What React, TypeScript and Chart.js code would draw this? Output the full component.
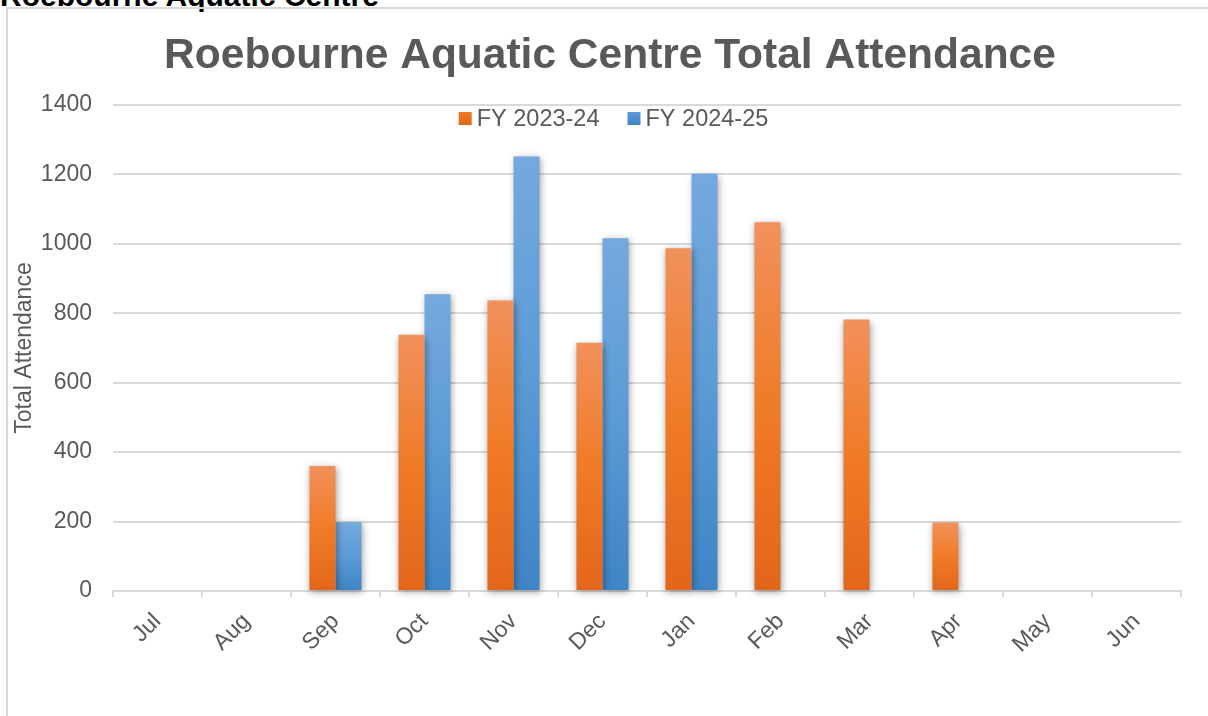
import React, { useEffect, useRef } from "react";
import { Chart, registerables } from "chart.js";

Chart.register(...registerables);

const pageHeading = "Roebourne Aquatic Centre";
const chartTitle = "Roebourne Aquatic Centre Total Attendance";
const yAxisTitle = "Total Attendance";
const months = ["Jul", "Aug", "Sep", "Oct", "Nov", "Dec", "Jan", "Feb", "Mar", "Apr", "May", "Jun"];
const seriesNames = ["FY 2023-24", "FY 2024-25"];
const fy2324: (number | null)[] = [null, null, 360, 738, 837, 715, 987, 1062, 782, 197, null, null];
const fy2425: (number | null)[] = [null, null, 198, 855, 1252, 1016, 1202, null, null, null, null, null];
const yMin = 0;
const yMax = 1400;
const yStep = 200;

const FONT = "'Liberation Sans', Arial, sans-serif";
const TEXT = "#595959";
const GRID = "#d9d9d9";
const orangeStops = ["#f1915c", "#f07b27", "#e2661a"];
const blueStops = ["#75a9de", "#5b9bd6", "#3f84c6"];

function barGradient(stops: string[]) {
  return (ctx: any) => {
    const chart = ctx.chart;
    const area = chart.chartArea;
    const v = ctx.raw;
    if (!area || ctx.type !== "data" || v == null) return stops[1];
    const ys = chart.scales.y;
    const top = ys.getPixelForValue(v);
    const bottom = ys.getPixelForValue(0);
    if (!isFinite(top) || !isFinite(bottom) || bottom - top < 1) return stops[1];
    const g = chart.ctx.createLinearGradient(0, top, 0, bottom);
    g.addColorStop(0, stops[0]);
    g.addColorStop(0.5, stops[1]);
    g.addColorStop(1, stops[2]);
    return g;
  };
}

const shadowPlugin = {
  id: "barShadow",
  beforeDatasetsDraw(chart: any) {
    const c = chart.ctx;
    c.save();
    c.shadowColor = "rgba(0,0,0,0.38)";
    c.shadowBlur = 7;
    c.shadowOffsetX = 1;
    c.shadowOffsetY = 2;
  },
  afterDatasetsDraw(chart: any) {
    chart.ctx.restore();
  },
};

const overlayPlugin = {
  id: "titleLegend",
  afterDraw(chart: any) {
    const c = chart.ctx;
    c.save();
    // title
    c.font = `bold 42.5px ${FONT}`;
    c.fillStyle = TEXT;
    c.textAlign = "center";
    c.textBaseline = "alphabetic";
    c.fillText(chartTitle, 610, 68);
    // legend
    c.font = `23.5px ${FONT}`;
    c.textAlign = "left";
    const sq = 13;
    const gap = 5;
    const itemGap = 28;
    const colors = [orangeStops, blueStops];
    const widths = seriesNames.map((n) => c.measureText(n).width);
    const total = widths.reduce((a, w) => a + sq + gap + w, 0) + itemGap * (seriesNames.length - 1);
    let x = 613.5 - total / 2;
    seriesNames.forEach((name, i) => {
      const g = c.createLinearGradient(0, 112, 0, 112 + sq);
      g.addColorStop(0, colors[i][1]);
      g.addColorStop(1, colors[i][2]);
      c.fillStyle = g;
      c.fillRect(x, 112, sq, sq);
      c.fillStyle = TEXT;
      c.fillText(name, x + sq + gap, 126);
      x += sq + gap + widths[i] + itemGap;
    });
    c.restore();
  },
};

export default function App() {
  const ref = useRef<HTMLCanvasElement | null>(null);

  useEffect(() => {
    if (!ref.current) return;
    Chart.defaults.font.family = FONT;
    const chart = new Chart(ref.current, {
      type: "bar",
      data: {
        labels: months,
        datasets: [
          {
            label: seriesNames[0],
            data: fy2324,
            backgroundColor: barGradient(orangeStops),
            borderWidth: 0,
            clip: false as any,
          },
          {
            label: seriesNames[1],
            data: fy2425,
            backgroundColor: barGradient(blueStops),
            borderWidth: 0,
            clip: false as any,
          },
        ],
      },
      options: {
        animation: false,
        responsive: true,
        maintainAspectRatio: false,
        datasets: { bar: { categoryPercentage: 0.585, barPercentage: 1 } },
        layout: { padding: { left: 5, top: 105, right: 27, bottom: 0 } },
        plugins: {
          legend: { display: false },
          title: { display: false },
          tooltip: { enabled: false },
        },
        scales: {
          x: {
            afterFit: (s: any) => {
              s.height = 125;
            },
            grid: {
              offset: true,
              drawOnChartArea: false,
              drawTicks: true,
              tickLength: 6,
              color: GRID,
              lineWidth: 2,
            },
            border: { display: true, color: GRID, width: 2 },
            ticks: {
              minRotation: 45,
              maxRotation: 45,
              autoSkip: false,
              padding: 11,
              color: TEXT,
              font: { size: 23, family: FONT },
            },
          },
          y: {
            min: yMin,
            max: yMax,
            afterFit: (s: any) => {
              s.width = 108;
            },
            ticks: {
              stepSize: yStep,
              padding: 21,
              color: TEXT,
              font: { size: 23, family: FONT },
              callback: (v: any) => String(v),
            },
            grid: { color: GRID, lineWidth: 2, drawTicks: false },
            border: { display: false },
            title: {
              display: true,
              text: yAxisTitle,
              color: TEXT,
              font: { size: 23, family: FONT },
              padding: { top: 6, bottom: 0 },
            },
          },
        },
      },
      plugins: [shadowPlugin, overlayPlugin],
    });
    return () => chart.destroy();
  }, []);

  return (
    <div style={{ position: "fixed", left: 0, top: 0, width: 1208, height: 716, overflow: "hidden", background: "#fff" }}>
      <div
        style={{
          position: "absolute",
          left: 0,
          top: -19,
          fontFamily: FONT,
          fontWeight: "bold",
          fontSize: 30,
          lineHeight: "30px",
          color: "#000",
          whiteSpace: "nowrap",
        }}
      >
        {pageHeading}
      </div>
      <div
        style={{
          position: "absolute",
          left: 6,
          top: 7,
          width: 1220,
          height: 730,
          border: `2px solid ${GRID}`,
          boxSizing: "border-box",
        }}
      />
      <div style={{ position: "absolute", left: 0, top: 0, width: 1208, height: 716 }}>
        <canvas ref={ref} />
      </div>
    </div>
  );
}
